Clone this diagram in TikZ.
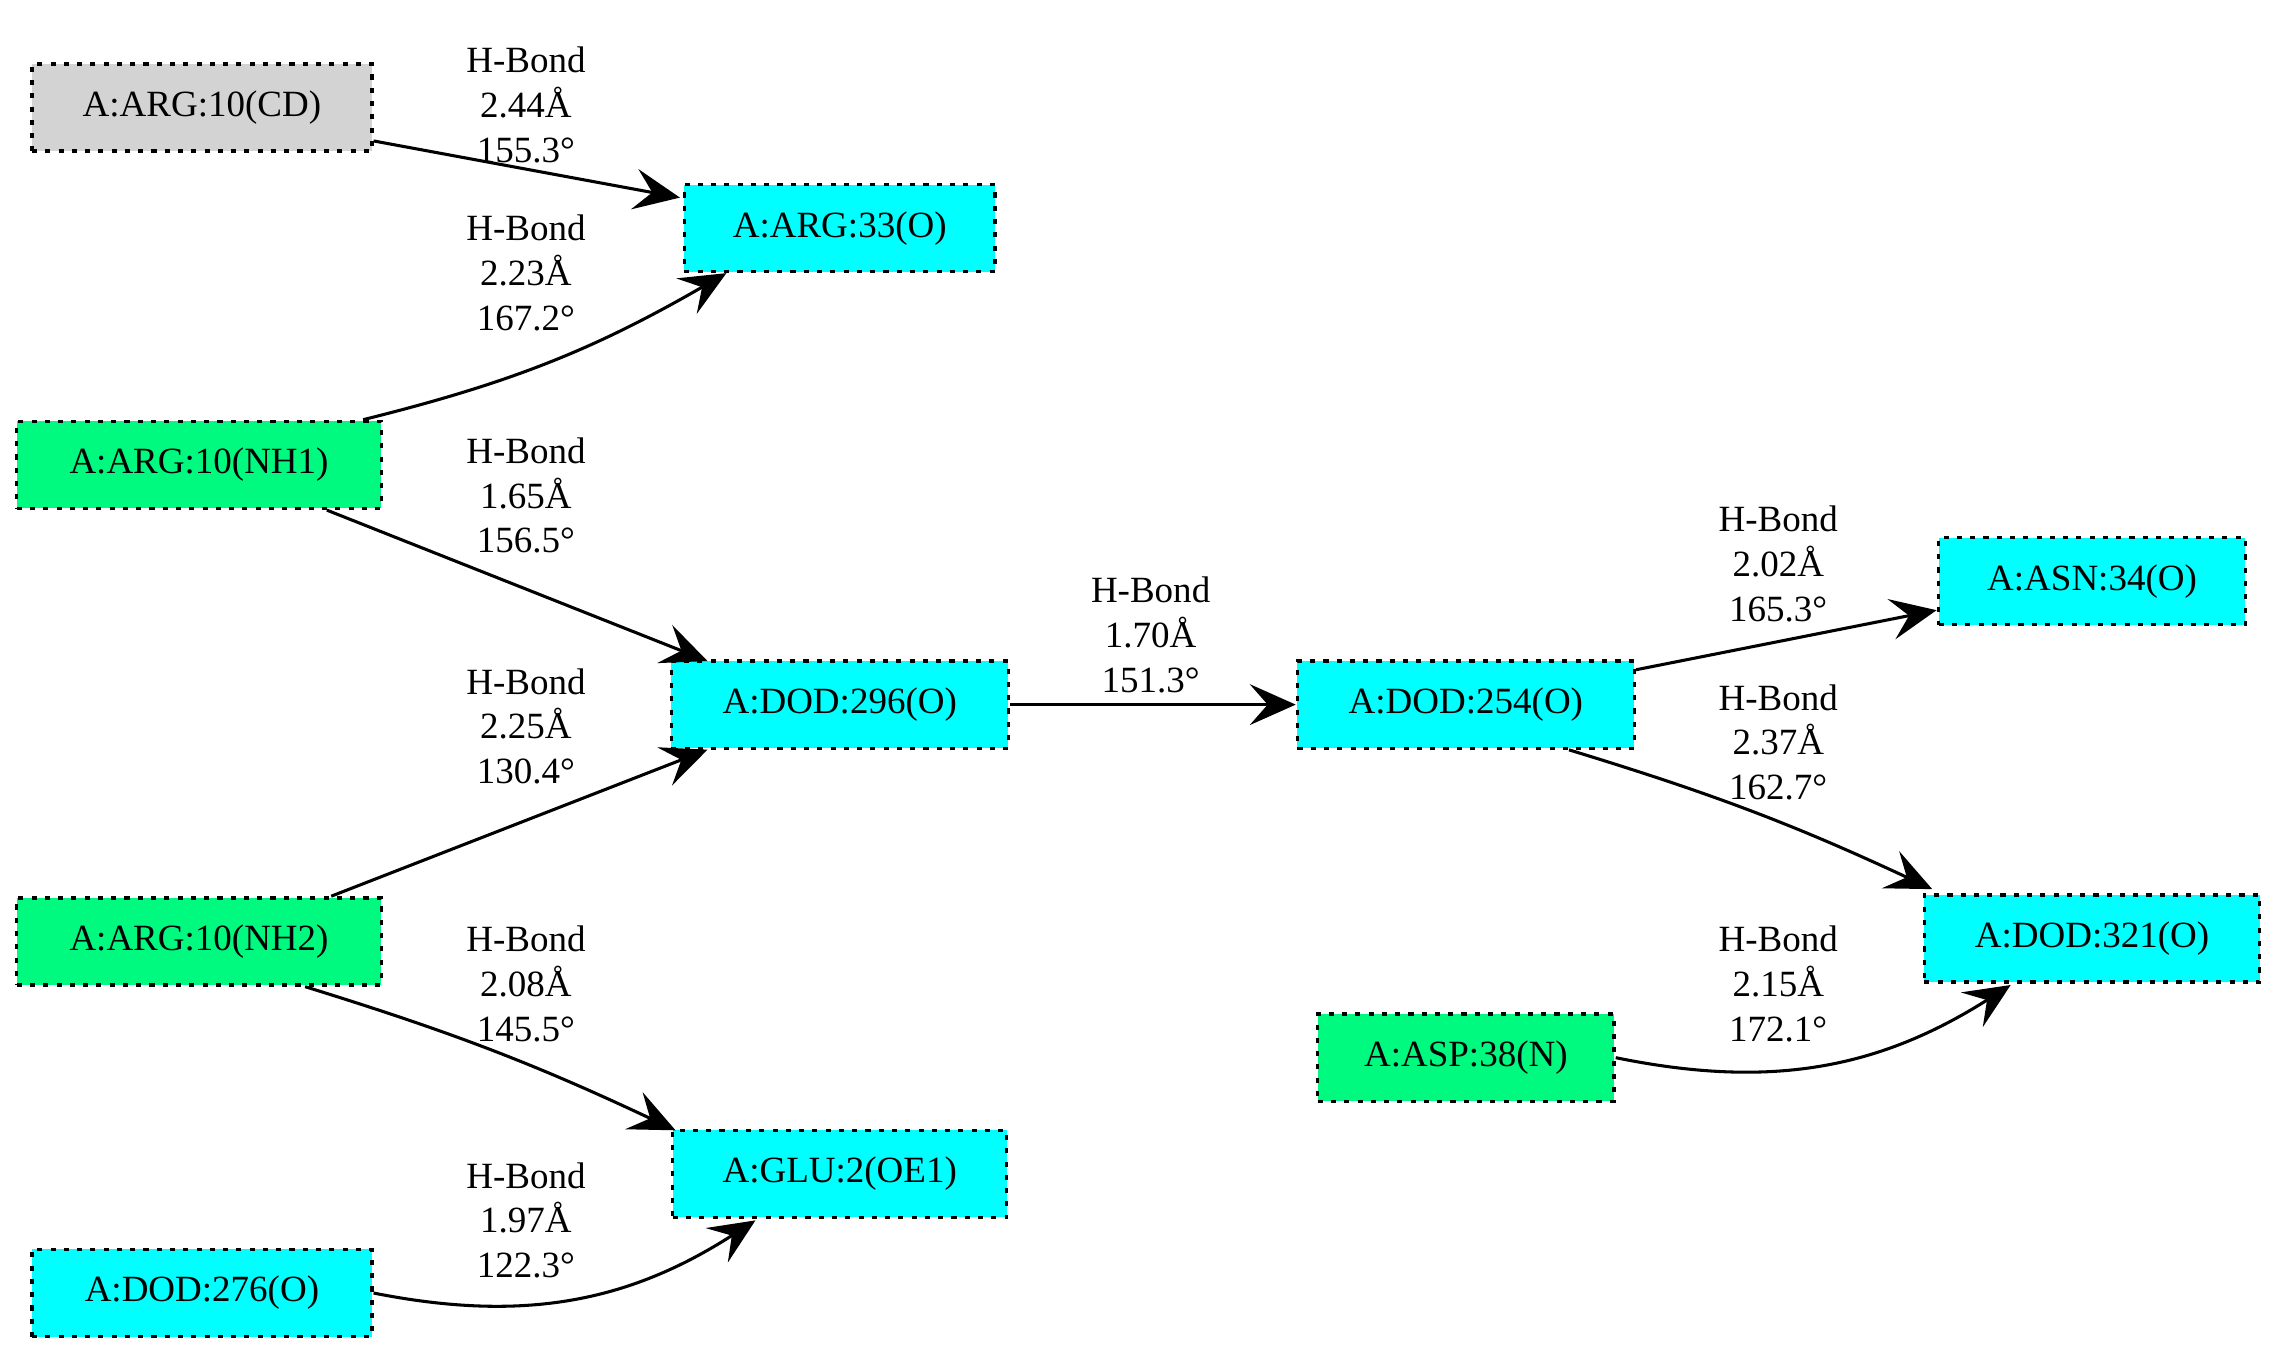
\documentclass[tikz,border=0pt]{standalone}
\usepackage{fontspec}
\setmainfont{Liberation Serif}
\usetikzlibrary{arrows.meta}
\tikzset{>={Stealth[length=18pt,width=16pt,inset=7pt]}}

\begin{document}
\begin{tikzpicture}[x=0.02cm, y=-0.02cm,
  atom/.style={draw, line width=1.3pt, dash pattern=on 2pt off 3.2pt, inner sep=0pt,
    minimum height=1.2cm, font=\fontsize{14.5}{17.6}\selectfont},
  hb/.style={align=center, font=\fontsize{14.5}{17.6}\selectfont},
  bond/.style={->, line width=1.2pt}]

  \fontsize{14.5}{17.6}\selectfont
  \useasboundingbox (0,0) rectangle (1568,934);

  \definecolor{wat}{RGB}{0,255,255}
  \definecolor{don}{RGB}{0,250,127}
  \definecolor{oth}{RGB}{211,211,211}

  % atoms
  \node[atom, fill=oth, minimum width=4.68cm] (cd)   at (139,74)  {A:ARG:10(CD)};
  \node[atom, fill=wat, minimum width=4.28cm] (o33)  at (578,157) {A:ARG:33(O)};
  \node[atom, fill=don, minimum width=5.02cm] (nh1)  at (137,320) {A:ARG:10(NH1)};
  \node[atom, fill=wat, minimum width=4.64cm] (d296) at (578,485) {A:DOD:296(O)};
  \node[atom, fill=don, minimum width=5.02cm] (nh2)  at (137,648) {A:ARG:10(NH2)};
  \node[atom, fill=wat, minimum width=4.60cm] (oe1)  at (578,808) {A:GLU:2(OE1)};
  \node[atom, fill=wat, minimum width=4.68cm] (d276) at (139,890) {A:DOD:276(O)};
  \node[atom, fill=wat, minimum width=4.64cm] (d254) at (1009,485) {A:DOD:254(O)};
  \node[atom, fill=wat, minimum width=4.22cm] (o34)  at (1440,400) {A:ASN:34(O)};
  \node[atom, fill=wat, minimum width=4.62cm] (d321) at (1440,646) {A:DOD:321(O)};
  \node[atom, fill=don, minimum width=4.08cm] (n38)  at (1009,728) {A:ASP:38(N)};

  % bonds
  \draw[bond] (cd.east |- 0,97) -- (468,136);
  \draw[bond] (nh1.north -| 250,0) to[bend right=8] (500,188);
  \draw[bond] (nh1.south -| 225,0) -- (487,455);
  \draw[bond] (nh2.north -| 228,0) -- (487,516);
  \draw[bond] (nh2.south -| 210,0) to[bend left=4] (465,778);
  \draw[bond] (d276.east) to[bend right=22] (520,840);
  \draw[bond] (d296) -- (d254);
  \draw[bond] (d254.east |- 0,461) -- (1333,420);
  \draw[bond] (d254.south -| 1080,0) to[bend left=4] (1330,612);
  \draw[bond] (n38.east) to[bend right=22] (1384,678);

  % labels
  \node[hb] (l1) at (362,72)  {H-Bond\\2.44Å\\155.3°};
  \node[hb] (l2) at (362,188) {H-Bond\\2.23Å\\167.2°};
  \node[hb] (l3) at (362,341) {H-Bond\\1.65Å\\156.5°};
  \node[hb] (l4) at (362,500) {H-Bond\\2.25Å\\130.4°};
  \node[hb] (l5) at (362,677) {H-Bond\\2.08Å\\145.5°};
  \node[hb] (l6) at (362,840) {H-Bond\\1.97Å\\122.3°};
  \node[hb] (l7) at (792,437) {H-Bond\\1.70Å\\151.3°};
  \node[hb] (l8) at (1224,388) {H-Bond\\2.02Å\\165.3°};
  \node[hb] (l9) at (1224,511) {H-Bond\\2.37Å\\162.7°};
  \node[hb] (l10) at (1224,677) {H-Bond\\2.15Å\\172.1°};

\end{tikzpicture}
\end{document}
